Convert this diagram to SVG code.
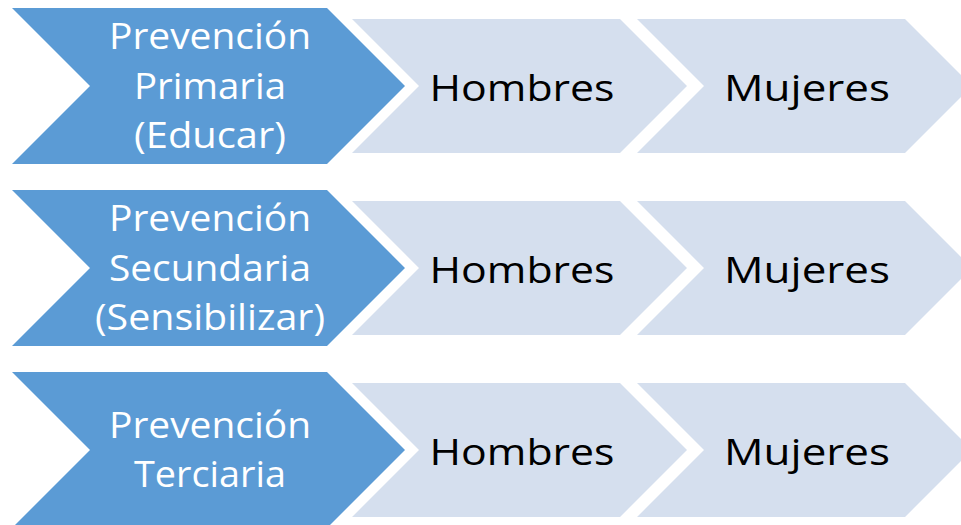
<svg xmlns="http://www.w3.org/2000/svg" width="961" height="525" viewBox="0 0 961 525">
<style>
.main{fill:#5B9BD5}
.sub{fill:#D5DFEE}
.t{font-family:"Open Sans","Noto Sans","Liberation Sans",sans-serif;font-size:37px;text-anchor:middle}
.w{fill:#FFFFFF}
.k{fill:#000000}
</style>
<defs>
<polygon id="big" points="12,-78 327,-78 405,0 327,78 12,78 90,0"/>
<polygon id="small1" points="352,-67 620,-67 687,0 620,67 352,67 419,0"/>
<polygon id="small2" points="637,-67 905,-67 972,0 905,67 637,67 704,0"/>
</defs>
<g id="connectors"></g>
<g id="row1" transform="translate(0,86)">
<g id="prev1"><use href="#big" class="main"/>
<text class="t w" x="210" y="-37" textLength="202" lengthAdjust="spacingAndGlyphs">Prevención</text>
<text class="t w" x="210" y="13" textLength="152" lengthAdjust="spacingAndGlyphs">Primaria</text>
<text class="t w" x="210" y="62" textLength="152" lengthAdjust="spacingAndGlyphs">(Educar)</text></g>
<g id="hom1"><use href="#small1" class="sub"/>
<text class="t k" x="522" y="15" textLength="185" lengthAdjust="spacingAndGlyphs">Hombres</text></g>
<g id="muj1"><use href="#small2" class="sub"/>
<text class="t k" x="807" y="15" textLength="166" lengthAdjust="spacingAndGlyphs">Mujeres</text></g>
</g>
<g id="row2" transform="translate(0,268)">
<g id="prev2"><use href="#big" class="main"/>
<text class="t w" x="210" y="-37" textLength="202" lengthAdjust="spacingAndGlyphs">Prevención</text>
<text class="t w" x="210" y="13" textLength="202" lengthAdjust="spacingAndGlyphs">Secundaria</text>
<text class="t w" x="210" y="62" textLength="230" lengthAdjust="spacingAndGlyphs">(Sensibilizar)</text></g>
<g id="hom2"><use href="#small1" class="sub"/>
<text class="t k" x="522" y="15" textLength="185" lengthAdjust="spacingAndGlyphs">Hombres</text></g>
<g id="muj2"><use href="#small2" class="sub"/>
<text class="t k" x="807" y="15" textLength="166" lengthAdjust="spacingAndGlyphs">Mujeres</text></g>
</g>
<g id="row3" transform="translate(0,450)">
<g id="prev3"><use href="#big" class="main"/>
<text class="t w" x="210" y="-12" textLength="202" lengthAdjust="spacingAndGlyphs">Prevención</text>
<text class="t w" x="210" y="37" textLength="152" lengthAdjust="spacingAndGlyphs">Terciaria</text></g>
<g id="hom3"><use href="#small1" class="sub"/>
<text class="t k" x="522" y="15" textLength="185" lengthAdjust="spacingAndGlyphs">Hombres</text></g>
<g id="muj3"><use href="#small2" class="sub"/>
<text class="t k" x="807" y="15" textLength="166" lengthAdjust="spacingAndGlyphs">Mujeres</text></g>
</g>
</svg>
